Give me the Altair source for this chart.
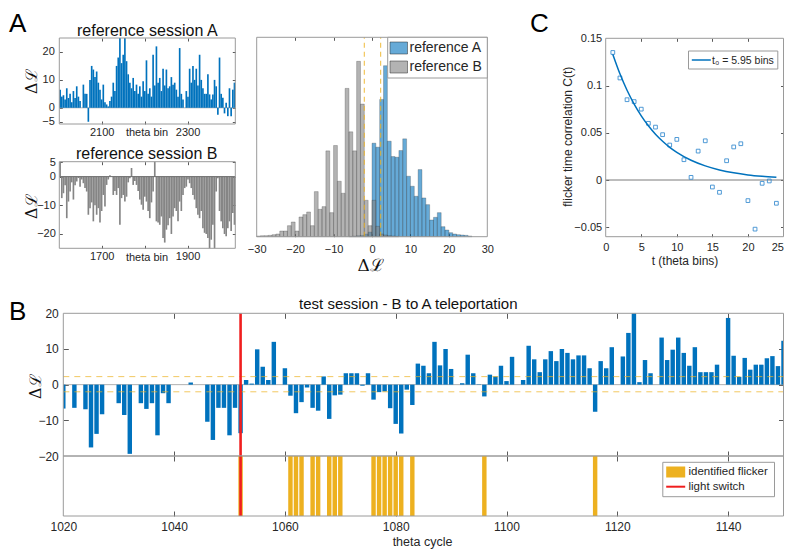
import altair as alt
import numpy as np
import pandas as pd

W, H = 776, 541
FONT = "Liberation Sans"
MATH_FONT = "DejaVu Serif"
TXT = "#262626"
EDGE = "#9a9a9a"
TICK = "#5a5a5a"
BLUE = "#0072BD"
GRAY = "#858585"
YELLOW = "#EDB120"
RED = "#F01E1E"

# ---------------- data ----------------
# Panel A: reference sessions, ΔL per theta bin (~4-bin resolution)
SESSION_A_RANGE = [2001.5, 2411.0]
SESSION_A = [6.5, 4, 4.5, 3, 7, 3.5, 5, 2, 6, 3.5, 7.7, 4, 2.4, 0, 8.3, 5, 5, -5,
             10, 15, 13.7, 11, 13, 9, 6.5, 3, 8.3, 2, 1.2, 0.5, 2.4, 4, 9, 6, 15, 18,
             25, 16, 19, 25, 16.7, 12, 9, 7, 10.7, 6, 8.3, 5, 7.7, 4, 9.5, 6, 17, 5,
             7, 4, 19, 8, 22, 9, 10.7, 6, 14, 8, 13.7, 7, 7.7, 11, 8.3, 9, 6.5, 4,
             21.4, 5, 3, 0, 6, 4, 14, 9, 15, 10, 14, 8, 19, 10, 7, 5, 5, 12,
             4.8, 3, 4.8, 10, 7.7, -2.5, 18, 5, 3.6, -2, 1.8, -3, 7, -3, 6.5, 9]
SESSION_B_RANGE = [1601.5, 2011.0]
SESSION_B = [5, -7.5, -5.8, -3, -14.5, -8.7, -5.2, -2, -8, -3, -1.7, -0.5, -3.5, -1,
             -2.3, -4, -5.2, -13.3, -11, -9, -15.6, -10, -13.3, -11, -16, -12, -6.4,
             -10.4, -2.9, -1, 0.5, 0, -6.4, -5, -6.4, -4, -16.8, -7.5, -6.4, -8.7, -7,
             -2, -0.6, 3, -2.9, -1.5, -2.9, -5, -8, -9.8, -11.6, -7, -8.7, -12, -14.5,
             -9, -5.2, 5.2, -15.6, -16, -16.8, -13.9, -21.4, -23, -18.5, -17, -14.5,
             -20, -13.9, -11, -12, -15.6, -8.7, -12, -6.4, -4, -3.5, -1, -2.3, -4,
             -6.4, -8, -11, -13.3, -14.5, -12, -18, -19.6, -20, -21.4, -25, -22,
             -16.8, -25, -5.2, -0.6, -12, -15.6, -18, -20, -20.8, -18, -15.6, -19,
             -12.7, -16.8]

# Histogram of ΔL (left bin edges, unit-width bins; counts in arbitrary units)
HIST_LEFT_EDGES = list(range(-30, 30))
HIST_REF_A = [0] * 24 + [1, 2, 3, 4, 8, 14,
              280, 268, 411, 512, 286, 240, 238, 258, 293, 181, 151, 121, 201, 116,
              96, 50, 58, 72, 30, 20, 12, 8, 6, 5, 4, 2, 0, 0, 0, 0]
HIST_REF_B = [2, 3, 3, 4, 6, 8, 17, 17, 33, 44, 17, 59, 66, 74, 33, 135, 82, 90, 257, 72,
              273, 166, 130, 444, 314, 257, 525, 397, 109, 33,
              109, 31, 8, 5, 3, 2, 1] + [0] * 23
THRESHOLDS = [-2.0, 2.25]

# Panel C: flicker time correlation
LAG = list(range(1, 25))
CORR = [0.135, 0.108, 0.085, 0.083, 0.075, 0.060, 0.056, 0.048, 0.037, 0.043, 0.0215,
        0.0028, 0.0306, 0.0415, -0.0074, -0.013, 0.0204, 0.035, 0.0384, -0.0218,
        -0.052, -0.0035, -0.001, -0.0246]
FIT_LAG = [1, 2, 3, 4, 5, 6, 7, 8, 9, 10, 12, 14, 16, 18, 20, 22, 24]
FIT_CORR = [0.133, 0.1124, 0.095, 0.0803, 0.0679, 0.0574, 0.0485, 0.041, 0.0346, 0.0293,
            0.0209, 0.015, 0.0107, 0.0076, 0.0054, 0.0039, 0.0028]
T0_LABEL = "t\u2080 = 5.95 bins"

# Panel B: test session
CYCLES = [1020, 1022, 1024, 1025, 1026, 1027, 1030, 1031, 1032, 1034, 1035, 1036, 1037,
          1038, 1039, 1043, 1046, 1047, 1048, 1049, 1050, 1051, 1052, 1053, 1054, 1055,
          1056, 1057, 1058, 1060, 1061, 1062, 1063, 1064, 1065, 1066, 1067, 1068, 1069,
          1070, 1071, 1072, 1073, 1074, 1075, 1076, 1077, 1078, 1079, 1080, 1081, 1082,
          1083, 1084, 1085, 1086, 1087, 1088, 1089, 1090, 1092, 1093, 1094, 1095, 1096,
          1097, 1098, 1099, 1100, 1101, 1103, 1104, 1105, 1106, 1107, 1108, 1109, 1110,
          1111, 1112, 1113, 1114, 1115, 1116, 1117, 1118, 1119, 1121, 1122, 1123, 1124,
          1125, 1126, 1128, 1129, 1130, 1131, 1132, 1133, 1134, 1135, 1136, 1137, 1138,
          1140, 1141, 1142, 1143, 1144, 1145, 1146, 1147, 1148, 1149, 1150]
DELTA_L = [-6.7, -6.5, -6.9, -17.6, -13.8, -8.3, -5.2, -8.5, -19.4, -5.2, -6.8, -5.2, -14.2,
           -2.4, -5.2, 0.6, -10.4, -15.5, -6.5, -6.5, -14.2, -6.5, -13.6, 1.3, 0.3, 9.9,
           5.0, 1.3, 12.0, 4.6, -3.1, -8.0, -4.9, -0.8, -6.5, -7.3, 2.3, -9.6, -3.0,
           -2.8, 3.2, 3.2, 3.2, -0.3, 3.2, -4.2, -2.1, -1.9, -6.6, -11.0, -13.7, -1.4,
           -5.7, 5.9, 5.3, 3.2, 12.0, 5.4, 10.0, 4.4, 0.4, 8.4, 3.2, 0.1, -3.3,
           2.8, 2.3, 5.3, 1.0, 7.8, 1.3, 10.9, 7.1, 3.5, 7.1, 9.4, 6.6, 10.0,
           8.9, 7.1, 8.2, 8.2, 4.6, -7.6, 6.6, 4.6, 10.5, 7.9, 14.5, 20.0, 0.7,
           6.9, 3.2, 13.2, 6.9, 9.8, 13.2, 8.9, 5.3, 10.5, 3.5, 3.5, 3.5, 5.6,
           18.7, 8.1, 2.2, 7.5, 4.2, 5.6, 5.6, 7.4, 8.0, 5.2, 12.3]
FLICKER_CYCLES = [1052, 1061, 1062, 1063, 1065, 1066, 1068, 1069, 1070, 1076, 1077, 1078,
                  1079, 1080, 1081, 1083, 1096, 1116]
LIGHT_SWITCH = 1052

# ---------------- layout (axes boxes: left, right, bottom, top) ----------------
BOX_A1 = (51.3, 227.3, 116.0, 30.0)
BOX_A2 = (51.3, 227.3, 240.3, 153.7)
BOX_H = (248.7, 479.3, 228.7, 29.3)
BOX_C = (597.7, 775.5, 228.7, 30.3)
BOX_BT = (55.3, 775.5, 448.0, 305.3)
BOX_BB = (55.3, 775.5, 508.0, 448.0)

DOM_A1 = (SESSION_A_RANGE, [-5.8, 25])
DOM_A2 = (SESSION_B_RANGE, [-25, 5.2])
DOM_H = ([-30, 30], [0, 597])
DOM_C = ([0, 25], [-0.06, 0.15])
DOM_BT = ([1020, 1150], [-20, 20])
DOM_BB = ([1020, 1150], [0, 1])

ONE = pd.DataFrame({"k": [0]})


def sc(box, dom):
    l, r, b, t = box
    return (alt.Scale(domain=list(dom[0]), range=[l, r], nice=False, zero=False),
            alt.Scale(domain=list(dom[1]), range=[b, t], nice=False, zero=False))


def xlab(box, values, size, pad, fmt="d", align="center"):
    return alt.Axis(orient="bottom", offset=box[2] - H, values=values, format=fmt,
                    labelFontSize=size, labelPadding=pad, labelFlush=False,
                    labelOverlap=False, ticks=False, tickSize=0, domain=False,
                    grid=False, title=None, labelColor=TXT, labelFont=FONT,
                    labelAlign=align)


def ylab(box, values, size, pad, fmt="d"):
    return alt.Axis(orient="left", offset=-box[0], values=values, format=fmt,
                    labelFontSize=size, labelPadding=pad, labelFlush=False,
                    labelOverlap=False, ticks=False, tickSize=0, domain=False,
                    grid=False, title=None, labelColor=TXT, labelFont=FONT,
                    labelBaseline="middle")


def frame(box, dom, xticks, yticks, tick=3):
    xs, ys = sc(box, dom)
    l, r, b, t = box
    df = pd.DataFrame({"x0": [dom[0][0]], "x1": [dom[0][1]],
                       "y0": [dom[1][0]], "y1": [dom[1][1]]})

    def tax(orient, off, vals):
        if not vals:
            return None
        return alt.Axis(orient=orient, offset=off, values=vals, labels=False,
                        domain=False, grid=False, ticks=True, tickSize=tick,
                        tickColor=TICK, tickWidth=1, title=None)

    box_l = alt.Chart(df).mark_rect(fill="white", fillOpacity=0, stroke=EDGE,
                                    strokeWidth=1).encode(
        x=alt.X("x0:Q", scale=xs, axis=tax("top", -b, xticks)), x2="x1",
        y=alt.Y("y0:Q", scale=ys, axis=tax("right", l - W, yticks)), y2="y1")
    mir = alt.Chart(df).mark_rect(opacity=0).encode(
        x=alt.X("x0:Q", scale=xs, axis=tax("bottom", t - H, xticks)), x2="x1",
        y=alt.Y("y0:Q", scale=ys, axis=tax("left", -r, yticks)), y2="y1")
    return [box_l, mir]


def hlines(box, dom, yvals, color, width=1.0, dash=None, opacity=1.0):
    xs, ys = sc(box, dom)
    df = pd.DataFrame({"y": yvals})
    df["x0"] = dom[0][0]
    df["x1"] = dom[0][1]
    kw = dict(color=color, strokeWidth=width, opacity=opacity)
    if dash:
        kw["strokeDash"] = dash
    return alt.Chart(df).mark_rule(**kw).encode(
        x=alt.X("x0:Q", scale=xs, axis=None), x2="x1",
        y=alt.Y("y:Q", scale=ys, axis=None))


def vlines(box, dom, xvals, color, width=1.0, dash=None, opacity=1.0):
    xs, ys = sc(box, dom)
    df = pd.DataFrame({"x": xvals})
    df["y0"] = dom[1][0]
    df["y1"] = dom[1][1]
    kw = dict(color=color, strokeWidth=width, opacity=opacity)
    if dash:
        kw["strokeDash"] = dash
    return alt.Chart(df).mark_rule(**kw).encode(
        x=alt.X("x:Q", scale=xs, axis=None),
        y=alt.Y("y0:Q", scale=ys, axis=None), y2="y1")


def txt(s, x, y, size, angle=0, align="center", baseline="middle", font=FONT,
        color=TXT):
    kw = dict(text=s, fontSize=size, align=align, baseline=baseline, font=font,
              color=color)
    if angle:
        kw["angle"] = angle
    return alt.Chart(ONE).mark_text(**kw).encode(x=alt.value(x), y=alt.value(y))


def vrect(x0, x1, y0, y1, **kw):
    return alt.Chart(ONE).mark_rect(**kw).encode(
        x=alt.value(x0), x2=alt.value(x1), y=alt.value(y0), y2=alt.value(y1))


def vrule(x0, x1, y, **kw):
    return alt.Chart(ONE).mark_rule(**kw).encode(
        x=alt.value(x0), x2=alt.value(x1), y=alt.value(y))


layers = []

# ---------------- Panel A1: reference session A ----------------
xs, ys = sc(BOX_A1, DOM_A1)
n = len(SESSION_A)
step = (SESSION_A_RANGE[1] - SESSION_A_RANGE[0]) / n
dfa = pd.DataFrame({"dl": SESSION_A})
dfa["b0"] = SESSION_A_RANGE[0] + step * np.arange(n)
dfa["b1"] = dfa["b0"] + step
dfa["z"] = 0.0
layers.append(hlines(BOX_A1, DOM_A1, [0], "#b5b5b5"))
layers.append(alt.Chart(dfa).mark_rect(fill=BLUE).encode(
    x=alt.X("b0:Q", scale=xs, axis=xlab(BOX_A1, [2100, 2300], 11, 2)), x2="b1",
    y=alt.Y("dl:Q", scale=ys, axis=ylab(BOX_A1, [-5, 0, 10, 20], 11, 5)), y2="z"))
layers += frame(BOX_A1, DOM_A1, [2100, 2200, 2300], [-5, 0, 10, 20])

# ---------------- Panel A2: reference session B ----------------
xs, ys = sc(BOX_A2, DOM_A2)
n = len(SESSION_B)
step = (SESSION_B_RANGE[1] - SESSION_B_RANGE[0]) / n
dfb2 = pd.DataFrame({"dl": SESSION_B})
dfb2["b0"] = SESSION_B_RANGE[0] + step * np.arange(n)
dfb2["b1"] = dfb2["b0"] + step
dfb2["z"] = 0.0
layers.append(alt.Chart(dfb2).mark_rect(fill=GRAY).encode(
    x=alt.X("b0:Q", scale=xs, axis=xlab(BOX_A2, [1700, 1900], 11, 2)), x2="b1",
    y=alt.Y("dl:Q", scale=ys, axis=ylab(BOX_A2, [-20, -10, 0, 5], 11, 4)), y2="z"))
layers.append(hlines(BOX_A2, DOM_A2, [0], "#6e6e6e"))
layers += frame(BOX_A2, DOM_A2, [1700, 1800, 1900], [-20, -10, 0, 5])

# ---------------- Histogram ----------------
xs, ys = sc(BOX_H, DOM_H)
dfh = pd.DataFrame({"b0": HIST_LEFT_EDGES, "a": HIST_REF_A, "b": HIST_REF_B})
dfh["b1"] = dfh["b0"] + 1
dfh["z"] = 0
layers.append(alt.Chart(dfh[dfh["a"] > 0]).mark_rect(
    fill=BLUE, fillOpacity=0.6, stroke="#2a2a2a", strokeWidth=0.5, strokeOpacity=0.5).encode(
    x=alt.X("b0:Q", scale=xs, axis=xlab(BOX_H, list(range(-30, 31, 10)), 11, 7)),
    x2="b1", y=alt.Y("a:Q", scale=ys, axis=None), y2="z"))
layers.append(alt.Chart(dfh[dfh["b"] > 0]).mark_rect(
    fill="#808080", fillOpacity=0.6, stroke="#2a2a2a", strokeWidth=0.5, strokeOpacity=0.5).encode(
    x=alt.X("b0:Q", scale=xs, axis=None), x2="b1",
    y=alt.Y("b:Q", scale=ys, axis=None), y2="z"))
layers.append(vlines(BOX_H, DOM_H, THRESHOLDS, YELLOW, 1.1, [5, 4], 0.8))
layers += frame(BOX_H, DOM_H, [-20, -10, 0, 10, 20], None)
# legend
layers.append(vrect(379.7, 479.3, 29.3, 70.0, fill="white", stroke=EDGE, strokeWidth=1))
layers.append(vrect(382.0, 399.5, 34.0, 46.0, fill=BLUE, fillOpacity=0.6,
                    stroke="#2a2a2a", strokeWidth=0.5))
layers.append(vrect(382.0, 399.5, 53.0, 65.0, fill="#808080", fillOpacity=0.6,
                    stroke="#2a2a2a", strokeWidth=0.5))
layers.append(txt("reference A", 401.5, 40.0, 14, align="left"))
layers.append(txt("reference B", 401.5, 59.0, 14, align="left"))

# ---------------- Panel C ----------------
xs, ys = sc(BOX_C, DOM_C)
layers.append(hlines(BOX_C, DOM_C, [0], "#7a7a7a"))
layers.append(alt.Chart(pd.DataFrame({"t": LAG, "c": CORR})).mark_point(
    shape="square", filled=False, size=14, color="#3d8fd1", strokeWidth=0.9, opacity=1).encode(
    x=alt.X("t:Q", scale=xs, axis=xlab(BOX_C, [0, 5, 10, 15, 20], 11, 5)),
    y=alt.Y("c:Q", scale=ys,
            axis=ylab(BOX_C, [-0.05, 0, 0.05, 0.1, 0.15], 11, 4, fmt=".2~f"))))
layers.append(alt.Chart(pd.DataFrame({"t": FIT_LAG, "c": FIT_CORR})).mark_line(
    color=BLUE, strokeWidth=1.5, interpolate="monotone").encode(
    x=alt.X("t:Q", scale=xs, axis=xlab(BOX_C, [25], 11, 5, align="right")),
    y=alt.Y("c:Q", scale=ys, axis=None)))
layers += frame(BOX_C, DOM_C, [5, 10, 15, 20], [-0.05, 0, 0.05, 0.1])
layers.append(vrect(680.5, 769.8, 43.0, 61.0, fill="white", stroke=EDGE, strokeWidth=1))
layers.append(vrule(683.8, 702.8, 52.0, color=BLUE, strokeWidth=1.5))
layers.append(txt(T0_LABEL, 704.0, 52.5, 10.5, align="left"))

# ---------------- Panel B (top: ΔL bars) ----------------
xs, ys = sc(BOX_BT, DOM_BT)
dfb = pd.DataFrame({"c": CYCLES, "dl": DELTA_L})
dfb["x0"] = np.maximum(dfb["c"] - 0.4, DOM_BT[0][0])
dfb["x1"] = np.minimum(dfb["c"] + 0.4, DOM_BT[0][1])
dfb["z"] = 0.0
layers.append(hlines(BOX_BT, DOM_BT, [0], "#b0b0b0"))
layers.append(alt.Chart(dfb).mark_rect(fill=BLUE).encode(
    x=alt.X("x0:Q", scale=xs, axis=None), x2="x1",
    y=alt.Y("dl:Q", scale=ys, axis=ylab(BOX_BT, [-20, -10, 0, 10, 20], 12, 5)),
    y2="z"))
layers.append(hlines(BOX_BT, DOM_BT, THRESHOLDS, YELLOW, 1.0, [6, 5], 0.7))
layers.append(vlines(BOX_BT, DOM_BT, [LIGHT_SWITCH], RED, 2.6))
layers += frame(BOX_BT, DOM_BT, [1040, 1060, 1080, 1100, 1120, 1140], [-10, 0, 10], tick=5)

# ---------------- Panel B (bottom: flicker) ----------------
xs, ys = sc(BOX_BB, DOM_BB)
dff = pd.DataFrame({"c": FLICKER_CYCLES})
dff["x0"] = dff["c"] - 0.4
dff["x1"] = dff["c"] + 0.4
dff["lo"] = DOM_BB[1][0]
dff["hi"] = DOM_BB[1][1]
layers.append(alt.Chart(dff).mark_rect(fill=YELLOW).encode(
    x=alt.X("x0:Q", scale=xs,
            axis=xlab(BOX_BB, [1020, 1040, 1060, 1080, 1100, 1120, 1140], 12, 5)),
    x2="x1", y=alt.Y("lo:Q", scale=ys, axis=None), y2="hi"))
layers.append(vlines(BOX_BB, DOM_BB, [LIGHT_SWITCH], RED, 2.6))
layers += frame(BOX_BB, DOM_BB, [1040, 1060, 1080, 1100, 1120, 1140], None, tick=5)
layers.append(vrect(654.8, 766.5, 454.3, 488.7, fill="white", stroke=EDGE, strokeWidth=1))
layers.append(vrect(658.2, 677.2, 458.5, 469.5, fill=YELLOW))
layers.append(vrule(658.2, 677.2, 478.7, color=RED, strokeWidth=2))
layers.append(txt("identified flicker", 680.5, 464.0, 11.5, align="left"))
layers.append(txt("light switch", 680.5, 478.7, 11.5, align="left"))

# ---------------- annotations ----------------
layers += [
    txt("A", 1, 24, 26, align="left", baseline="alphabetic", color="#000000"),
    txt("reference session A", 139.3, 27.5, 16, baseline="alphabetic", color="#111111"),
    txt("\u0394\u2112", 23.7, 73.7, 16, angle=270, font=MATH_FONT, color="#111111"),
    txt("theta bin", 139.0, 125.0, 11),
    txt("reference session B", 138.7, 151.3, 16, baseline="alphabetic", color="#111111"),
    txt("\u0394\u2112", 24.3, 198.7, 16, angle=270, font=MATH_FONT, color="#111111"),
    txt("theta bin", 139.0, 249.5, 11),
    txt("\u0394\u2112", 362.7, 258.0, 17, font=MATH_FONT, color="#111111"),
    txt("C", 522, 24, 26, align="left", baseline="alphabetic", color="#000000"),
    txt("t (theta bins)", 677.0, 252.7, 12),
    txt("flicker time correlation C(t)", 560.3, 128.7, 12, angle=270),
    txt("B", 1, 312, 26, align="left", baseline="alphabetic", color="#000000"),
    txt("test session - B to A teleportation", 400.3, 301.0, 15, baseline="alphabetic",
        color="#111111"),
    txt("\u0394\u2112", 28.0, 378.7, 16, angle=270, font=MATH_FONT, color="#111111"),
    txt("theta cycle", 414.5, 538.0, 12.5, baseline="alphabetic"),
]

chart = alt.layer(*layers).resolve_scale(
    x="independent", y="independent"
).properties(
    width=W, height=H, padding=0, autosize=alt.AutoSizeParams(type="none")
).configure_view(stroke=None).configure_axis(grid=False)

chart.save("out.html", embed_options={"renderer": "svg", "actions": False})
